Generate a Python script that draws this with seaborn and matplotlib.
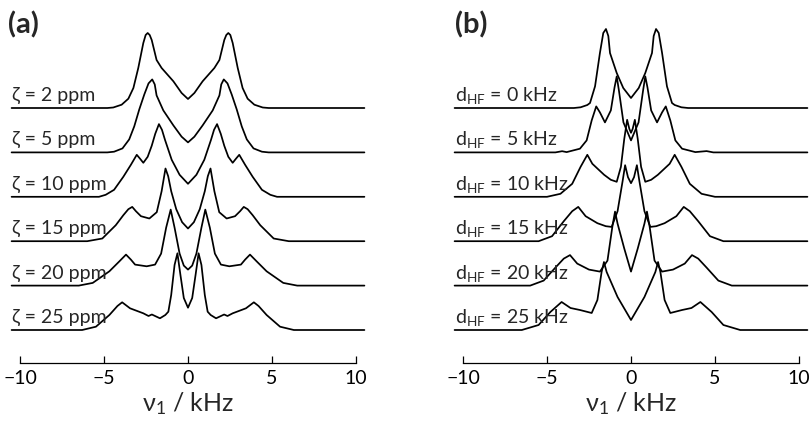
import numpy as np
import pandas as pd
import matplotlib.pyplot as plt
import seaborn as sns

# Panel labels
zeta_labels = ['ζ = 2 ppm', 'ζ = 5 ppm', 'ζ = 10 ppm', 'ζ = 15 ppm', 'ζ = 20 ppm', 'ζ = 25 ppm']
dhf_labels = [r'd$_{\rm HF}$ = 0 kHz', r'd$_{\rm HF}$ = 5 kHz', r'd$_{\rm HF}$ = 10 kHz',
              r'd$_{\rm HF}$ = 15 kHz', r'd$_{\rm HF}$ = 20 kHz', r'd$_{\rm HF}$ = 25 kHz']
xticks = [-10, -5, 0, 5, 10]

# Spectra: frequency (kHz) and intensity (arb. units)
a1_x = [-10.5, -4.8, -4.45, -3.95, -3.55, -3.25, -2.96, -2.66, -2.52, -2.40, -2.28, -2.16, -1.87, -1.57, -0.87, -0.38, 0,
        0.38, 0.87, 1.57, 1.87, 2.16, 2.28, 2.40, 2.52, 2.66, 2.96, 3.25, 3.55, 3.95, 4.45, 4.8, 10.5]
a1_y = [0, 0, 0.5, 3.3, 9.3, 20, 40, 65, 73, 75, 73, 68, 48, 40, 26.7, 15, 9,
        15, 26.7, 40, 48, 68, 73, 75, 73, 65, 40, 20, 9.3, 3.3, 0.5, 0, 0]
a2_x = [-10.5, -4.8, -4.4, -3.9, -3.5, -3.2, -2.9, -2.6, -2.35, -2.13, -1.98, -1.87, -1.47, -0.87, -0.38, 0,
        0.38, 0.87, 1.47, 1.87, 1.98, 2.13, 2.35, 2.6, 2.9, 3.2, 3.5, 3.9, 4.4, 4.8, 10.5]
a2_y = [0, 0, 0.7, 4, 13, 26, 43, 58, 69, 73, 68, 57, 42, 27, 15.7, 10,
        15.7, 27, 42, 57, 68, 73, 69, 58, 43, 26, 13, 4, 0.7, 0, 0]
a3_x = [-10.5, -5.3, -4.9, -4.4, -3.85, -3.4, -3.05, -2.85, -2.66, -2.4, -2.16, -1.95, -1.73, -1.55, -1.37, -0.97, -0.5, 0,
        0.5, 0.97, 1.37, 1.55, 1.73, 1.95, 2.16, 2.4, 2.66, 2.85, 3.05, 3.4, 3.85, 4.4, 4.9, 5.3, 10.5]
a3_y = [0, 0, 2, 7, 20, 32, 42, 38, 34, 40, 51, 63, 72.7, 67, 57, 37, 22, 13,
        22, 37, 57, 67, 72.7, 63, 51, 40, 34, 38, 42, 32, 20, 7, 2, 0, 0]
a4_x = [-10.5, -6.0, -5.1, -4.3, -3.85, -3.55, -3.32, -3.1, -2.8, -2.3, -1.86, -1.57, -1.34, -1.18, -1.0, -0.7, -0.35, 0,
        0.35, 0.7, 1.0, 1.18, 1.34, 1.57, 1.86, 2.3, 2.8, 3.1, 3.32, 3.55, 3.85, 4.3, 5.1, 6.0, 10.5]
a4_y = [0, 0, 2.7, 16, 26, 32, 34.3, 30, 25, 22.7, 29, 50, 72.7, 65, 50, 32, 19, 12.7,
        19, 32, 50, 65, 72.7, 50, 29, 22.7, 25, 30, 34.3, 32, 26, 16, 2.7, 0, 0]
a5_x = [-10.5, -6.5, -5.67, -4.68, -4.1, -3.69, -3.4, -3.15, -2.46, -1.96, -1.6, -1.3, -1.03, -0.8, -0.5, -0.25, 0,
        0.25, 0.5, 0.8, 1.03, 1.3, 1.6, 1.96, 2.46, 3.15, 3.4, 3.69, 4.1, 4.68, 5.67, 6.5, 10.5]
a5_y = [0, 0, 2.7, 14.3, 24, 31, 26, 21, 19.3, 21, 32, 58, 76, 58, 32, 20, 16,
        20, 32, 58, 76, 58, 32, 21, 19.3, 21, 26, 31, 24, 14.3, 2.7, 0, 0]
a6_x = [-10.5, -6.3, -5.48, -4.68, -4.2, -3.92, -3.45, -2.66, -2.35, -2.15, -1.67, -1.35, -1.17, -1.0, -0.8, -0.63, -0.45, -0.25, 0,
        0.25, 0.45, 0.63, 0.8, 1.0, 1.17, 1.35, 1.67, 2.15, 2.35, 2.66, 3.45, 3.92, 4.2, 4.68, 5.48, 6.3, 10.5]
a6_y = [0, 0, 3.3, 15, 24, 27.7, 21.7, 16.7, 14, 15.5, 11.7, 15, 18.3, 35, 65, 76.7, 55, 32, 22.3,
        32, 55, 76.7, 65, 35, 18.3, 15, 11.7, 15.5, 14, 16.7, 21.7, 27.7, 24, 15, 3.3, 0, 0]

b1_x = [-10.5, -3.4, -3.0, -2.6, -2.44, -2.14, -1.85, -1.65, -1.49, -1.35, -1.25, -0.85, -0.46, 0,
        0.46, 0.85, 1.25, 1.35, 1.49, 1.65, 1.85, 2.14, 2.44, 2.6, 3.0, 3.4, 10.5]
b1_y = [0, 0, 0.7, 3, 5, 21.7, 55, 75, 79, 72, 55, 35, 20, 10,
        20, 35, 55, 72, 79, 75, 55, 21.7, 5, 3, 0.7, 0, 0]
b2_x = [-10.5, -4.5, -4.1, -3.83, -3.04, -2.64, -2.34, -2.07, -1.85, -1.55, -1.2, -0.98, -0.85, -0.72, -0.45, 0,
        0.45, 0.72, 0.85, 0.98, 1.2, 1.55, 1.85, 2.07, 2.34, 2.64, 3.04, 3.83, 4.5, 4.9, 5.3, 10.5]
b2_y = [0, 0, 1.2, 0.3, 3.7, 12, 32, 46, 40, 30, 42, 65, 76, 62, 30, 12,
        30, 62, 76, 65, 42, 30, 40, 46, 32, 12, 3.7, 0.3, 1.3, 0, 0, 0]
b3_x = [-10.5, -5.0, -4.2, -3.5, -3.0, -2.6, -2.3, -1.6, -1.2, -0.85, -0.6, -0.4, -0.23, -0.1, 0,
        0.1, 0.23, 0.4, 0.6, 0.85, 1.2, 1.6, 2.3, 2.6, 3.0, 3.5, 4.2, 5.0, 10.5]
b3_y = [0, 0, 3, 13, 30, 42, 33, 22, 17, 15, 30, 58, 77, 68, 64,
        68, 77, 58, 30, 15, 17, 22, 33, 42, 30, 13, 3, 0, 0]
b4_x = [-10.5, -5.5, -4.7, -4.0, -3.5, -3.14, -2.7, -2.0, -1.5, -1.15, -0.8, -0.5, -0.35, -0.18, 0,
        0.18, 0.35, 0.5, 0.8, 1.15, 1.5, 2.0, 2.7, 3.14, 3.5, 4.0, 4.7, 5.5, 10.5]
b4_y = [0, 0, 5, 20, 30, 34.3, 25, 18, 15, 14.3, 30, 60, 76, 64, 58,
        64, 76, 60, 30, 14.3, 15, 18, 25, 34.3, 30, 20, 5, 0, 0]
b5_x = [-10.5, -6.0, -5.2, -4.5, -4.0, -3.63, -3.2, -2.5, -1.85, -1.4, -1.1, -0.95, -0.8, -0.4, 0,
        0.4, 0.8, 0.95, 1.1, 1.4, 1.85, 2.5, 3.2, 3.63, 4.0, 4.5, 5.2, 6.0, 10.5]
b5_y = [0, 0, 5, 18, 27, 30.5, 22, 16, 14, 25, 60, 74, 62, 37, 14,
        37, 62, 74, 60, 25, 14, 16, 22, 30.5, 27, 18, 5, 0, 0]
b6_x = [-10.5, -6.5, -5.5, -4.8, -4.13, -3.6, -3.04, -2.34, -2.0, -1.75, -1.61, -1.45, -0.8, 0,
        0.8, 1.45, 1.61, 1.75, 2.0, 2.34, 3.04, 3.6, 4.13, 4.8, 5.5, 6.5, 10.5]
b6_y = [0, 0, 5, 18, 28, 22, 20, 17, 30, 58, 68, 58, 33, 10,
        33, 58, 68, 58, 30, 17, 20, 22, 28, 18, 5, 0, 0]

panel_a = [(a1_x, a1_y), (a2_x, a2_y), (a3_x, a3_y), (a4_x, a4_y), (a5_x, a5_y), (a6_x, a6_y)]
panel_b = [(b1_x, b1_y), (b2_x, b2_y), (b3_x, b3_y), (b4_x, b4_y), (b5_x, b5_y), (b6_x, b6_y)]
step = 44.4  # vertical stacking offset between spectra

sns.set_theme(style='white')
plt.rcParams['font.family'] = ['Lato', 'DejaVu Sans']
plt.rcParams['mathtext.fontset'] = 'custom'
plt.rcParams['mathtext.rm'] = 'Lato'
plt.rcParams['mathtext.it'] = 'Lato'
plt.rcParams['axes.unicode_minus'] = True

fig = plt.figure(figsize=(8.1, 4.28), dpi=100)
ax_a = fig.add_axes([20 / 810, 1 - 363 / 428, 336 / 810, 348 / 428])
ax_b = fig.add_axes([463 / 810, 1 - 363 / 428, 336 / 810, 348 / 428])

for ax, spectra, labels, tag, tag_x in [(ax_a, panel_a, zeta_labels, '(a)', -10.72),
                                        (ax_b, panel_b, dhf_labels, '(b)', -10.5)]:
    for i, ((xs, ys), lab) in enumerate(zip(spectra, labels)):
        off = (len(spectra) - 1 - i) * step
        df = pd.DataFrame({'nu': xs, 'I': np.array(ys) + off})
        sns.lineplot(data=df, x='nu', y='I', ax=ax, sort=False, estimator=None,
                     color='black', lw=1.25, clip_on=False)
        ax.text(-10.48, off + 7, lab, fontsize=14, ha='left', va='baseline', clip_on=False)
    ax.text(tag_x, 319, tag, fontsize=21, fontweight='bold', ha='left', va='top', clip_on=False)

    ax.set_xlim(-10, 10)
    ax.set_ylim(-33, 315)
    for s in ['top', 'left', 'right']:
        ax.spines[s].set_visible(False)
    ax.spines['bottom'].set_linewidth(0.9)
    ax.spines['bottom'].set_color('black')
    ax.set_yticks([])
    ax.set_xticks(xticks)
    ax.set_xticklabels([f'{t}'.replace('-', '\u2212') for t in xticks])
    ax.tick_params(axis='x', direction='in', length=5, width=0.9, pad=5, labelsize=14, colors='black',
                   bottom=True)
    ax.set_xlabel('ν$_{\\rm 1}$ / kHz', fontsize=18, labelpad=2)
    ax.set_ylabel('')

fig.savefig('out.png', dpi=100)
